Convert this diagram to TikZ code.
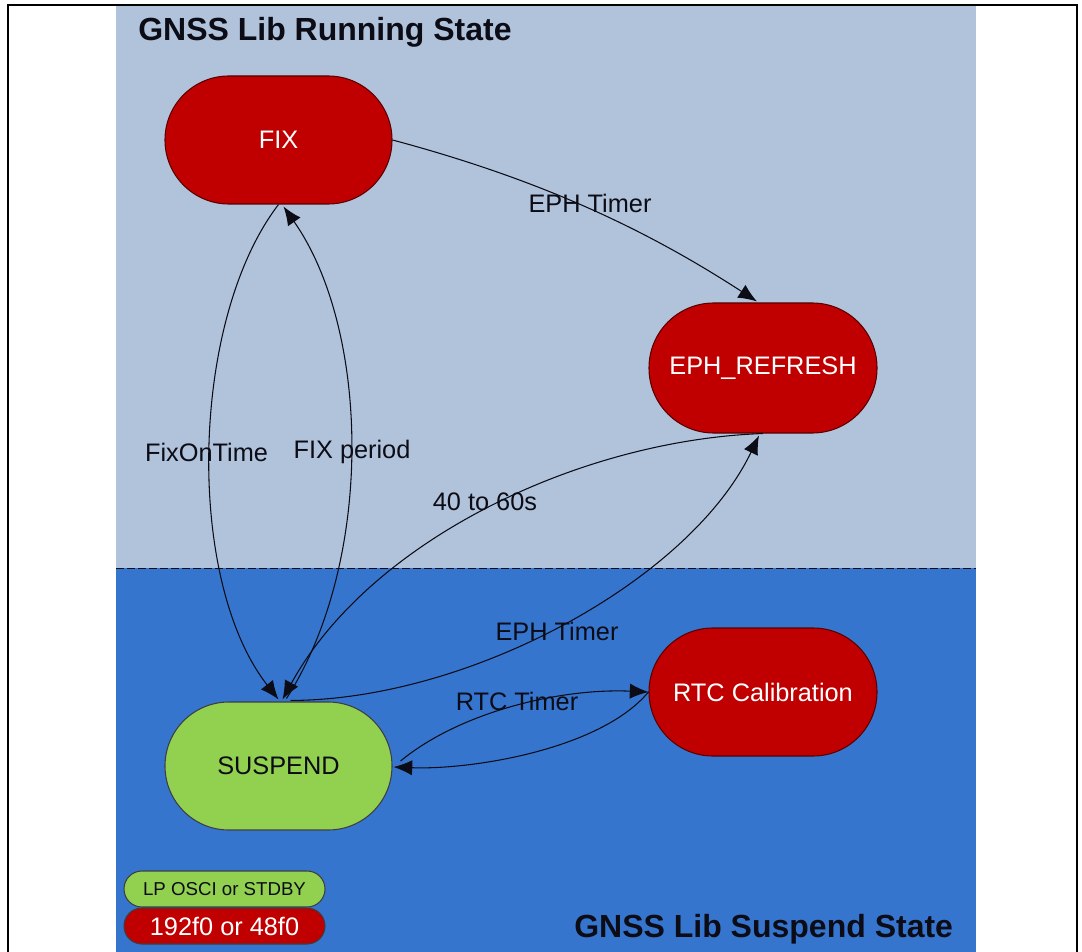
\documentclass[tikz,border=0pt]{standalone}
\usepackage{fontspec}
\setmainfont{Liberation Sans}
\usetikzlibrary{arrows.meta,calc}
\definecolor{lightbg}{RGB}{177,195,219}
\definecolor{darkbg}{RGB}{54,117,206}
\definecolor{nodered}{RGB}{192,0,0}
\definecolor{nodegreen}{RGB}{146,208,80}
\definecolor{ink}{RGB}{12,12,22}
\definecolor{borderred}{RGB}{90,0,0}
\begin{document}
\begin{tikzpicture}[x=0.75pt,y=-0.75pt,
  statebox/.style={draw=borderred, line width=0.8pt, fill=nodered, text=white,
    rounded corners=47.9pt, minimum width=170.25pt, minimum height=96pt, inner sep=0pt,
    font=\fontsize{19}{22}\selectfont},
  legendbox/.style={draw=ink!80, line width=0.8pt, rounded corners=13.4pt,
    minimum width=150.75pt, minimum height=27pt, inner sep=0pt},
  conn/.style={draw=ink, line width=0.8pt, -{Latex[length=14pt,width=11.5pt]}},
  lbl/.style={text=ink, font=\fontsize{19}{22}\selectfont, inner sep=0pt},
  title/.style={anchor=base west, text=ink, inner sep=0pt, font=\bfseries\fontsize{24}{28}\selectfont}
]
\useasboundingbox (0,0) rectangle (1082,952);
\fill[white] (0,0) rectangle (1082,952);
\fill[lightbg] (116,5) rectangle (976,568);
\fill[darkbg] (116,568) rectangle (976,952);
\draw[ink, line width=0.6pt, dash pattern=on 6pt off 2.25pt] (116,568) -- (976,568);
\draw[black, line width=2pt] (8,952) -- (8,5) -- (1077,5) -- (1077,952);

\node[title] (titleRun) at (138,41) {GNSS Lib Running State};
\node[title] (titleSus) at (574,937) {GNSS Lib Suspend State};

\node[statebox] (fix) at (278.5,140) {FIX};
\node[statebox, minimum width=171pt, minimum height=97.5pt, rounded corners=48.6pt] (eph) at (763,368) {EPH\_REFRESH};
\node[statebox, fill=nodegreen, text=ink, draw=ink!80] (sus) at (278.5,766) {SUSPEND};
\node[statebox, minimum width=171pt] (rtc) at (763,692) {RTC Calibration};

\node[legendbox, fill=nodegreen, text=ink, font=\fontsize{14}{16}\selectfont] (lgA) at (224.5,889) {LP OSCI or STDBY};
\node[legendbox, fill=nodered, text=white, font=\fontsize{19}{22}\selectfont] (lgB) at (224.5,926) {192f0 or 48f0};

\draw[conn] (fix.east) .. controls (542,180) and (647,230) .. ($(eph.north)+(-6,-1)$);
\draw[conn] (fix.south) .. controls (190,320) and (185,580) .. ($(sus.north)+(0,-2)$);
\draw[conn] ($(sus.north)+(8,-3)$) .. controls (375,560) and (370,330) .. ($(fix.south)+(5,2)$);
\draw[conn] (eph.south) .. controls (580,440) and (370,540) .. ($(sus.north)+(4,-2)$);
\draw[conn] ($(sus.north)+(12,-1)$) .. controls (470,700) and (690,580) .. ($(eph.south)+(-4,2)$);
\draw[conn] ($(sus.east)+(8,-5)$) .. controls (460,712) and (560,688) .. (rtc.west);
\draw[conn] (rtc.west) .. controls (600,750) and (470,770) .. ($(sus.east)+(1,1)$);

\node[lbl] (lEph1) at (590,203) {EPH Timer};
\node[lbl] (lFot) at (206.5,452) {FixOnTime};
\node[lbl] (lFp) at (352,452) {FIX period};
\node[lbl] (l4060) at (485,502) {40 to 60s};
\node[lbl] (lEph2) at (557,631) {EPH Timer};
\node[lbl] (lRtc) at (517,701) {RTC Timer};
\end{tikzpicture}
\end{document}
